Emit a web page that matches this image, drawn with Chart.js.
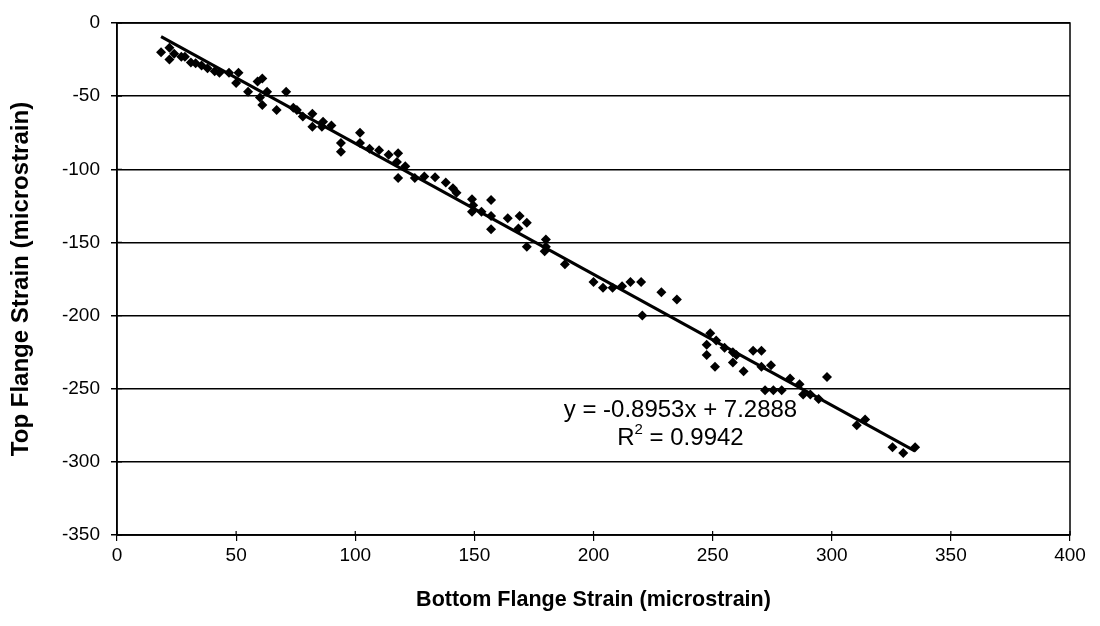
<!DOCTYPE html>
<html>
<head>
<meta charset="utf-8">
<script src="https://cdn.jsdelivr.net/npm/chart.js@4.4.1/dist/chart.umd.min.js"></script>
<style>
  html, body { margin: 0; padding: 0; background: #fff; }
  #wrap { width: 1100px; height: 626px; }
</style>
</head>
<body>
<div id="wrap"><canvas id="strainChart"></canvas></div>
<script>
// Measured strain pairs (microstrain)
const bottomStrain = [
  18.5, 22, 22, 24, 27, 28.5, 31, 33, 35.5, 38, 41, 43, 47, 51, 50, 55, 59, 61, 60, 63,
  61, 67, 71, 74, 75.5, 78, 82, 82, 86, 86.5, 90, 94, 94, 102, 102, 106, 110, 114, 118, 117.5,
  118, 121, 125, 129, 133.5, 138, 141, 142.5, 149, 149.5, 149, 153, 157, 157, 157, 164, 169, 172, 168.5, 172,
  180, 180, 179.5, 188, 200, 204, 208, 212, 215.5, 220, 228.5, 235, 220.5, 249, 247.5, 247.5, 251, 251.5, 255, 258.5,
  258.5, 260, 263, 267, 270.5, 270.5, 274.5, 272, 275.5, 279, 282.5, 286.5, 288, 291, 294.5, 298, 310.5, 314, 325.5, 330,
  335
];
const topStrain = [
  -20, -17, -25, -21, -23, -23, -27, -27.5, -29, -31, -33, -34, -34, -34, -41, -47, -40, -38, -51, -47,
  -56, -59.5, -47, -58, -59.5, -64, -62, -71, -71, -67.5, -70, -82, -88, -75, -82, -86, -87, -90, -89, -95,
  -106, -98, -106, -105, -105.5, -109, -113, -116, -120.5, -124.5, -129, -129, -121, -132, -141, -133.5, -132, -136.5, -140.5, -153,
  -148, -153, -156, -165, -177, -181, -181, -180, -177, -177, -184, -189, -200, -212, -220, -227, -235, -217, -222, -225,
  -232, -227, -238, -224, -224, -235, -234, -251, -251, -251, -243, -247, -254, -254, -257, -242, -275, -271, -290, -294,
  -290
];

const xTicks = [0, 50, 100, 150, 200, 250, 300, 350, 400];
const yTicks = [0, -50, -100, -150, -200, -250, -300, -350];

// Linear trendline
const fitSlope = -0.8953;
const fitIntercept = 7.2888;
const fitR2 = '0.9942';

const FONT = "'Liberation Sans', Arial, sans-serif";

const points = bottomStrain.map((x, i) => ({ x: x, y: topStrain[i] }));
const xMin = Math.min(...bottomStrain);
const xMax = Math.max(...bottomStrain);
const trend = [xMin, xMax].map(x => ({ x: x, y: fitSlope * x + fitIntercept }));

// Frame, inner tick marks and trendline equation
const framePlugin = {
  id: 'frame',
  afterDatasetsDraw(chart) {
    const { ctx, chartArea: a, scales } = chart;
    ctx.save();
    ctx.strokeStyle = '#000';
    ctx.lineWidth = 1.5;
    ctx.strokeRect(a.left, a.top, a.right - a.left, a.bottom - a.top);

    ctx.lineWidth = 1.2;
    ctx.beginPath();
    xTicks.forEach(v => {
      const px = scales.x.getPixelForValue(v);
      ctx.moveTo(px, a.bottom);
      ctx.lineTo(px, a.bottom - 4);
    });
    yTicks.forEach(v => {
      const py = scales.y.getPixelForValue(v);
      ctx.moveTo(a.left, py);
      ctx.lineTo(a.left + 5, py);
    });
    ctx.stroke();

    // equation text
    const cx = scales.x.getPixelForValue(236.5);
    const y1 = scales.y.getPixelForValue(-265);
    const y2 = scales.y.getPixelForValue(-284);
    ctx.fillStyle = '#000';
    ctx.textBaseline = 'middle';
    ctx.textAlign = 'center';
    const big = '24px ' + FONT;
    const small = '15px ' + FONT;
    ctx.font = big;
    const sign = fitIntercept >= 0 ? '+' : '-';
    ctx.fillText('y = ' + fitSlope + 'x ' + sign + ' ' + Math.abs(fitIntercept), cx, y1);

    ctx.textAlign = 'left';
    const wR = ctx.measureText('R').width;
    const wRest = ctx.measureText(' = ' + fitR2).width;
    ctx.font = small;
    const w2 = ctx.measureText('2').width;
    const sx = cx - (wR + w2 + wRest) / 2;
    ctx.font = big;
    ctx.fillText('R', sx, y2);
    ctx.font = small;
    ctx.fillText('2', sx + wR, y2 - 9);
    ctx.font = big;
    ctx.fillText(' = ' + fitR2, sx + wR + w2, y2);
    ctx.restore();
  }
};

const ctx = document.getElementById('strainChart');

new Chart(ctx, {
  type: 'scatter',
  data: {
    datasets: [
      {
        label: 'Strain',
        data: points,
        pointStyle: 'rectRot',
        pointRadius: 5,
        backgroundColor: '#000',
        borderColor: '#000',
        borderWidth: 0,
        order: 2
      },
      {
        type: 'line',
        label: 'Linear fit',
        data: trend,
        borderColor: '#000',
        borderWidth: 3,
        pointRadius: 0,
        fill: false,
        order: 1
      }
    ]
  },
  options: {
    responsive: true,
    maintainAspectRatio: false,
    animation: false,
    layout: {
      padding: { top: 23, right: 30, left: 0, bottom: 0 }
    },
    plugins: {
      legend: { display: false },
      tooltip: { enabled: false }
    },
    scales: {
      x: {
        type: 'linear',
        min: 0,
        max: 400,
        afterBuildTicks: scale => { scale.ticks = xTicks.map(v => ({ value: v })); },
        afterFit: scale => { scale.height = 91; },
        grid: {
          drawOnChartArea: false,
          drawTicks: true,
          tickLength: 6,
          color: '#000',
          lineWidth: 1.2
        },
        border: { display: true, color: '#000', width: 1.5 },
        ticks: {
          color: '#000',
          padding: 3,
          maxRotation: 0,
          font: { size: 19, family: FONT }
        },
        title: {
          display: true,
          text: 'Bottom Flange Strain (microstrain)',
          color: '#000',
          padding: { top: 0, bottom: 13 },
          font: { size: 21.5, weight: 'bold', family: FONT }
        }
      },
      y: {
        type: 'linear',
        min: -350,
        max: 0,
        afterBuildTicks: scale => { scale.ticks = yTicks.map(v => ({ value: v })); },
        afterFit: scale => { scale.width = 117; },
        grid: {
          drawTicks: true,
          tickLength: 6,
          color: '#000',
          lineWidth: 1.5
        },
        border: { display: true, color: '#000', width: 1.5 },
        ticks: {
          color: '#000',
          padding: 11,
          font: { size: 19, family: FONT }
        },
        title: {
          display: true,
          text: 'Top Flange Strain (microstrain)',
          color: '#000',
          padding: { top: 7, bottom: 0 },
          font: { size: 24, weight: 'bold', family: FONT }
        }
      }
    }
  },
  plugins: [framePlugin]
});
</script>
</body>
</html>
